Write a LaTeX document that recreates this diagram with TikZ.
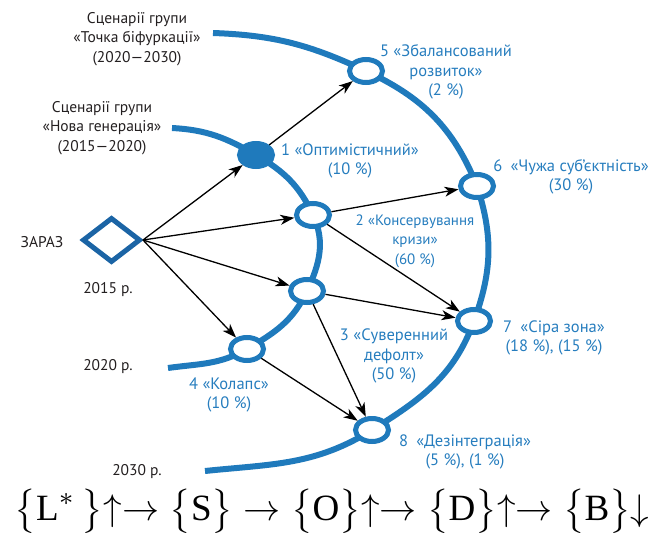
\documentclass[tikz,border=0pt]{standalone}
\usepackage{graphicx}
\usepackage{fontspec}
\setsansfont{PT Sans}
\newfontfamily\formfont{Liberation Serif}
\usepackage{tikz}
\usetikzlibrary{shapes.geometric, arrows.meta}
\definecolor{ringblue}{RGB}{31,122,188}
\definecolor{nowblue}{RGB}{27,100,165}
\definecolor{labblue}{RGB}{38,125,190}
\definecolor{labblack}{RGB}{35,31,32}
\newcommand{\fl}[1]{\hbox{\formfont #1}}
\tikzstyle{ringline} = [line width=6pt, draw=ringblue]
\tikzstyle{scen} = [ellipse, inner sep=0pt, minimum width=33pt, minimum height=23pt, line width=5pt, draw=ringblue, fill=white]
\tikzstyle{scenfill} = [scen, fill=ringblue]
\tikzstyle{nowbox} = [diamond, inner sep=0pt, minimum width=58pt, minimum height=45pt, line width=5pt, draw=nowblue, fill=white]
\tikzstyle{blacklab} = [font=\sffamily\fontsize{15.5}{19.5}\selectfont, text=labblack, align=center, inner sep=0pt]
\tikzstyle{bluelab} = [blacklab, font=\sffamily\fontsize{16.5}{19.5}\selectfont, text=labblue]
\tikzstyle{arrow} = [line width=1.3pt, draw=black, -{Stealth[length=14pt, width=10pt, inset=4pt]}]

\begin{document}
\begin{tikzpicture}[x=1pt, y=-1pt]
\useasboundingbox (0,0) rectangle (652,535);
% points on the rings
\coordinate (c1) at (256,155);
\coordinate (c2) at (313,215);
\coordinate (c3) at (307,291);
\coordinate (c4) at (247,349);
\coordinate (c5) at (366,71);
\coordinate (c6) at (477,186);
\coordinate (c7) at (474,321);
\coordinate (c8) at (372,430);

% rings
\draw[ringline] (172,128) to[out=-3,in=150] (c1) to[out=-30,in=115] (c2) to[out=-65,in=65] (c3) to[out=-115,in=30] (c4) to[out=-150,in=8] (168,368);
\draw[ringline] (213,33) to[out=-2,in=155] (c5) to[out=-25,in=112] (c6) to[out=-72,in=70] (c7) to[out=-110,in=32] (c8) to[out=-148,in=6] (205,471);

% scenario nodes
\node (zar) [nowbox] at (111.5,240) {};
\node (s1) [scenfill] at (c1) {};
\node (s2) [scen] at (c2) {};
\node (s3) [scen] at (c3) {};
\node (s4) [scen] at (c4) {};
\node (s5) [scen] at (c5) {};
\node (s6) [scen] at (c6) {};
\node (s7) [scen] at (c7) {};
\node (s8) [scen] at (c8) {};

\draw[arrow] (zar.east) -- (s1);
\draw[arrow] (zar.east) -- (s2);
\draw[arrow] (zar.east) -- (s3);
\draw[arrow] (zar.east) -- (s4);
\draw[arrow] (s1) -- (s5);
\draw[arrow] (s2) -- (s6);
\draw[arrow] (s2) -- (s7);
\draw[arrow] (s3) -- (s7);
\draw[arrow] (s3) -- (s8);
\draw[arrow] (s4) -- (s8);

% black labels
\node (grpbif) [blacklab] at (137,39) {Сценарії групи\\«Точка біфуркації»\\(2020—2030)};
\node (grpnew) [blacklab] at (102,128) {Сценарії групи\\«Нова генерація»\\(2015—2020)};
\node (nowlab) [blacklab] at (42,242) {ЗАРАЗ};
\node (y2015) [blacklab] at (108,290) {2015 р.};
\node (y2020) [blacklab] at (108,367) {2020 р.};
\node (y2030) [blacklab] at (137,472) {2030 р.};

% blue labels
\node (l1) [bluelab] at (350,161) {1 «Оптимістичний»\\(10 \%)};
\node (l2) [bluelab, font=\sffamily\fontsize{15}{19.5}\selectfont] at (415,241) {2 «Консервування\\кризи»\\(60 \%)};
\node (l3) [bluelab] at (394,356) {3 «Суверенний\\дефолт»\\(50 \%)};
\node (l4) [bluelab] at (229,395) {4 «Колапс»\\(10 \%)};
\node (l5) [bluelab] at (446,72) {5 «Збалансований\\розвиток»\\(2 \%)};
\node (l6) [bluelab] at (571,177) {6\enspace«Чужа суб’єктність»\\(30 \%)};
\node (l7) [bluelab] at (554,338) {7\enspace«Сіра зона»\\(18 \%), (15 \%)};
\node (l8) [bluelab] at (465,452) {8\enspace«Дезінтеграція»\\(5 \%), (1 \%)};

% formula
\node (formula) [inner sep=0pt] at (332,511) {\resizebox{635pt}{!}{$\bigl\{\fl{L}^{*}\,\bigr\}\mathord{\uparrow}\mathord{\rightarrow}\;\bigl\{\fl{S}\bigr\}\;\mathord{\rightarrow}\;\bigl\{\fl{O}\bigr\}\mathord{\uparrow}\mathord{\rightarrow}\;\bigl\{\fl{D}\bigr\}\mathord{\uparrow}\mathord{\rightarrow}\;\bigl\{\fl{B}\bigr\}\mathord{\downarrow}$}};
\end{tikzpicture}
\end{document}
